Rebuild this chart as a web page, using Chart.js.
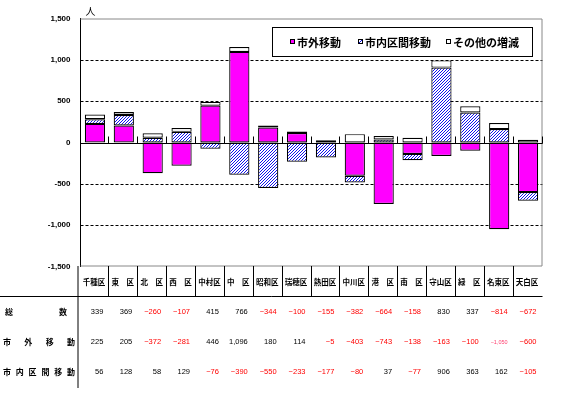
<!DOCTYPE html>
<html>
<head>
<meta charset="utf-8">
<script src="https://cdn.jsdelivr.net/npm/chart.js@4"></script>
<style>
  html, body { margin: 0; padding: 0; background: #fff; }
  canvas { display: block; }
</style>
</head>
<body>
<canvas id="chart" width="572" height="406"></canvas>
<script>
// 区別 人口増減（人）
const wards = ['千種区', '東　区', '北　区', '西　区', '中村区', '中　区', '昭和区', '瑞穂区',
               '熱田区', '中川区', '港　区', '南　区', '守山区', '緑　区', '名東区', '天白区'];
const totals  = [339, 369, -260, -107, 415, 766, -344, -100, -155, -382, -664, -158, 830, 337, -814, -672];
const outside = [225, 205, -372, -281, 446, 1096, 180, 114, -5, -403, -743, -138, -163, -100, -1050, -600];
const inside  = [56, 128, 58, 129, -76, -390, -550, -233, -177, -80, 37, -77, 906, 363, 162, -105];
const others  = [58, 36, 54, 45, 45, 60, 26, 19, 27, 101, 42, 57, 87, 74, 74, 33];
const yTicks  = [-1500, -1000, -500, 0, 500, 1000, 1500];
const gridValues = [-1000, -500, 500, 1000];
const seriesNames = ['市外移動', '市内区間移動', 'その他の増減'];
const rowNames = ['総　数', '市外移動', '市内区間移動'];

const JP = '"Noto Sans CJK JP", sans-serif';
const canvas = document.getElementById('chart');
const ctx = canvas.getContext('2d');

// 斜線パターン
function makeHatch() {
    const c = document.createElement('canvas');
    c.width = 3; c.height = 3;
    const g = c.getContext('2d');
    g.fillStyle = '#fff';
    g.fillRect(0, 0, 3, 3);
    g.fillStyle = '#1010ee';
    for (let x = 0; x < 3; x++) { g.fillRect(x, 2 - x, 1, 1); }
    return ctx.createPattern(c, 'repeat');
}
const hatch = makeHatch();
const fills = ['#ff00ff', hatch, '#ffffff'];

function fmt(v) {
    const s = Math.abs(v).toLocaleString('en-US');
    return v < 0 ? '−' + s : s;
}

// 表・凡例・枠線などの描画
const extras = {
    id: 'extras',
    beforeDatasetsDraw(chart) {
        const { ctx, chartArea: a, scales: { y } } = chart;
        ctx.save();
        ctx.strokeStyle = '#000';
        ctx.lineWidth = 1;
        ctx.setLineDash([3, 2]);
        gridValues.forEach(v => {
            const py = Math.round(y.getPixelForValue(v)) + 0.5;
            ctx.beginPath(); ctx.moveTo(a.left, py); ctx.lineTo(a.right, py); ctx.stroke();
        });
        ctx.restore();
    },
    afterDatasetsDraw(chart) {
        const { ctx, chartArea: a, scales: { x, y } } = chart;
        const n = wards.length;
        const colW = (a.right - a.left) / n;
        const edge = i => a.left + colW * i;
        ctx.save();

        // 外枠（灰色）
        ctx.strokeStyle = '#888';
        ctx.lineWidth = 1;
        ctx.beginPath();
        ctx.moveTo(a.left, a.top + 0.5); ctx.lineTo(a.right - 0.5, a.top + 0.5);
        ctx.lineTo(a.right - 0.5, a.bottom - 0.5); ctx.lineTo(a.left, a.bottom - 0.5);
        ctx.stroke();

        // 0 の軸線と目盛
        const zy = Math.round(y.getPixelForValue(0)) + 0.5;
        ctx.strokeStyle = '#000';
        ctx.beginPath(); ctx.moveTo(a.left, zy); ctx.lineTo(a.right, zy); ctx.stroke();
        for (let i = 1; i <= n; i++) {
            const px = Math.round(edge(i)) - 0.5;
            ctx.beginPath(); ctx.moveTo(px, zy); ctx.lineTo(px, zy - 7); ctx.stroke();
        }

        // 単位
        ctx.fillStyle = '#000';
        ctx.font = '10px ' + JP;
        ctx.textAlign = 'center';
        ctx.textBaseline = 'middle';
        ctx.fillText('人', a.left + 10, 11);

        // 凡例
        const lg = { x: 272.5, y: 27.5, w: 260, h: 29 };
        ctx.fillStyle = '#fff';
        ctx.fillRect(lg.x, lg.y, lg.w, lg.h);
        ctx.strokeRect(lg.x, lg.y, lg.w, lg.h);
        const lx = [290, 358, 446];
        ctx.font = 'bold 11px ' + JP;
        ctx.textAlign = 'left';
        seriesNames.forEach((name, i) => {
            ctx.fillStyle = fills[i];
            ctx.fillRect(lx[i], 39, 5, 5);
            ctx.strokeStyle = '#000';
            ctx.strokeRect(lx[i] + 0.5, 39.5, 4, 4);
            ctx.fillStyle = '#000';
            ctx.fillText(name, lx[i] + 7, 43);
        });

        // 表：区名の行
        const tTop = a.bottom - 0.5, tMid = 296.5;
        ctx.strokeStyle = '#000';
        ctx.beginPath();
        ctx.moveTo(a.left - 2.5, tTop); ctx.lineTo(a.left - 2.5, 388);
        for (let i = 1; i < n; i++) {
            const px = Math.round(edge(i)) - 0.5;
            ctx.moveTo(px, tTop); ctx.lineTo(px, tMid);
        }
        ctx.moveTo(0, tMid); ctx.lineTo(a.right, tMid);
        ctx.stroke();

        ctx.font = 'bold 7.5px ' + JP;
        ctx.textAlign = 'center';
        ctx.fillStyle = '#000';
        wards.forEach((w, i) => {
            ctx.fillText(w, x.getPixelForValue(i) - 1, 282);
        });

        // 表：数値の行
        const rows = [totals, outside, inside];
        const rowY = [312, 342, 372];
        rows.forEach((vals, r) => {
            // 行見出し（均等割り付け）
            const chars = [...rowNames[r].replace(/　/g, '')];
            const x0 = r === 0 ? 5 : 3, x1 = r === 0 ? 67 : 75;
            ctx.font = 'bold 8px ' + JP;
            ctx.textAlign = 'left';
            ctx.fillStyle = '#000';
            const cw = 8;
            chars.forEach((ch, k) => {
                const px = chars.length > 1 ? x0 + (x1 - cw - x0) * k / (chars.length - 1) : x0;
                ctx.fillText(ch, px, rowY[r]);
            });
            ctx.textAlign = 'right';
            vals.forEach((v, i) => {
                const s = fmt(v);
                if (Math.abs(v) >= 1000 && v < 0) {
                    ctx.font = '5.5px "Liberation Sans", Arial, sans-serif';
                    ctx.fillStyle = '#ff4070';
                } else {
                    ctx.font = '7.5px "Liberation Sans", Arial, sans-serif';
                    ctx.fillStyle = v < 0 ? '#ff0000' : '#000';
                }
                ctx.fillText(s, edge(i + 1) - 6, rowY[r]);
            });
        });
        ctx.restore();
    }
};

const datasets = [outside, inside, others].map((data, i) => ({
    label: seriesNames[i],
    data: data,
    backgroundColor: fills[i],
    borderColor: '#000',
    borderWidth: 1.2,
    borderSkipped: false,
    categoryPercentage: 1.0,
    barPercentage: 0.7
}));

new Chart(canvas, {
    type: 'bar',
    data: { labels: wards, datasets: datasets },
    options: {
        responsive: false,
        animation: false,
        devicePixelRatio: 1,
        layout: { padding: { top: 18.5, right: 29.5, bottom: 139.5, left: 0 } },
        plugins: { legend: { display: false }, tooltip: { enabled: false } },
        scales: {
            x: { stacked: true, display: false },
            y: {
                stacked: true,
                min: -1500,
                max: 1500,
                afterBuildTicks: s => { s.ticks = yTicks.map(v => ({ value: v })); },
                afterFit: s => { s.width = 80.5; },
                grid: { display: false, drawTicks: false },
                border: { display: true, color: '#000', width: 1 },
                ticks: {
                    padding: 10,
                    color: '#000',
                    font: { family: '"Liberation Sans", Arial, sans-serif', size: 8, weight: 'bold' },
                    callback: v => fmt(v).replace('−', '-')
                }
            }
        }
    },
    plugins: [extras]
});
</script>
</body>
</html>
